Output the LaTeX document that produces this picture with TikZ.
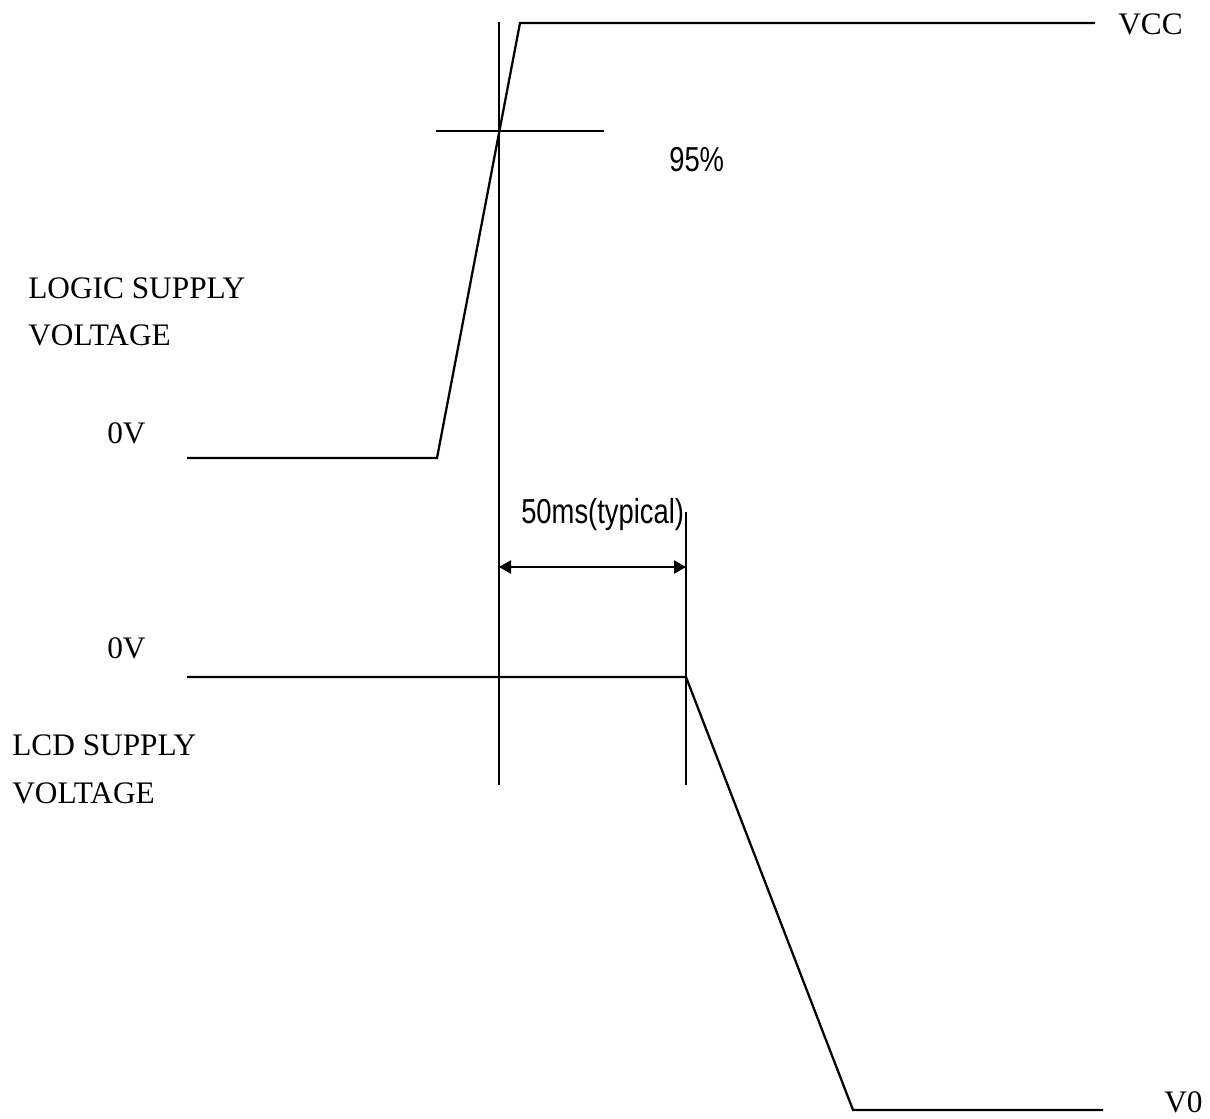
\documentclass[tikz,border=0pt]{standalone}
\usepackage{fontspec}
\setmainfont{Liberation Serif}
\newfontfamily\narrowsans[FakeStretch=0.79]{Liberation Sans}
\usetikzlibrary{arrows.meta}
\tikzset{
  wave/.style={line width=1.7pt, line join=miter},
  guide/.style={line width=1.0pt},
  dim/.style={line width=0.8pt, {Triangle[length=9pt,width=10pt]}-{Triangle[length=9pt,width=10pt]}},
  serif/.style={inner sep=0pt, anchor=base west, font=\fontsize{23.5}{27}\selectfont},
  sans/.style={inner sep=0pt, anchor=base west, font=\narrowsans\fontsize{26}{30}\selectfont},
}
\begin{document}
\begin{tikzpicture}[x=0.75pt,y=-0.75pt]
\useasboundingbox (0,0) rectangle (1210,1118);
% coordinates
\coordinate (l0) at (187,458);
\coordinate (l1) at (437,458);
\coordinate (l2) at (520,23);
\coordinate (l3) at (1095,23);
\coordinate (t0) at (436,131);
\coordinate (t1) at (604,131);
\coordinate (v1a) at (499,22);
\coordinate (v1b) at (499,785);
\coordinate (v2a) at (686,512);
\coordinate (v2b) at (686,785);
\coordinate (a0) at (499,567);
\coordinate (a1) at (686,567);
\coordinate (d0) at (187,677);
\coordinate (d1) at (686,677);
\coordinate (d2) at (853,1110);
\coordinate (d3) at (1103,1110);
% waveforms
\draw[wave] (l0) -- (l1) -- (l2) -- (l3);
\draw[wave] (d0) -- (d1) -- (d2) -- (d3);
\draw[wave] (t0) -- (t1);
% guides
\draw[guide] (v1a) -- (v1b);
\draw[guide] (v2a) -- (v2b);
\draw[dim] (a0) -- (a1);
% labels
\node[serif] (vcc) at (1118,34) {VCC};
\node[sans] (p95) at (669,171) {95\%};
\node[serif] (logic1) at (28,298) {LOGIC SUPPLY};
\node[serif] (logic2) at (28,345) {VOLTAGE};
\node[serif] (zv1) at (107,443) {0V};
\node[sans] (ms) at (521,523) {50ms(typical)};
\node[serif] (zv2) at (107,658) {0V};
\node[serif] (lcd1) at (12,755) {LCD SUPPLY};
\node[serif] (lcd2) at (12,803) {VOLTAGE};
\node[serif] (v0) at (1164,1112) {V0};
\end{tikzpicture}
\end{document}
